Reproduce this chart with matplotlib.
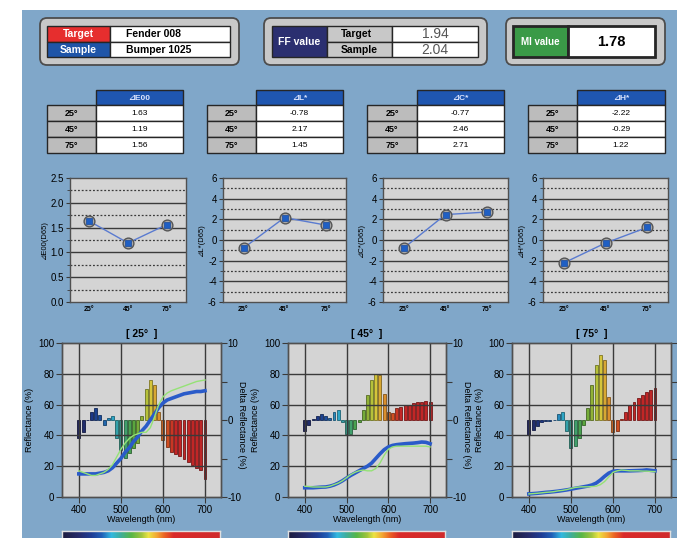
import numpy as np
import matplotlib
matplotlib.use('Agg')
import matplotlib.pyplot as plt
from matplotlib.patches import Rectangle, FancyBboxPatch
from matplotlib.colors import LinearSegmentedColormap, to_rgb

plt.rcParams['font.family'] = ['Liberation Sans', 'DejaVu Sans']

W, H = 677, 538

# ---- header values ----
target_name = 'Fender 008'
sample_name = 'Bumper 1025'
ff_target = 1.94
ff_sample = 2.04
mi_value = 1.78

# ---- colour differences per angle ----
angles = ['25°', '45°', '75°']
dE00 = [1.63, 1.19, 1.56]
dL = [-0.78, 2.17, 1.45]
dC = [-0.77, 2.46, 2.71]
dH = [-2.22, -0.29, 1.22]

# ---- spectra (every 10 nm) ----
wavelengths = np.arange(400, 701, 10)

target_25 = [17, 16, 15, 14, 14, 15, 16, 18, 21, 26, 31, 35, 38, 40, 41, 42, 42, 45, 52, 60,
             65, 67.5, 69, 70, 71, 72, 73, 74, 75, 75.5, 76]
sample_25 = [15, 15, 15, 15, 15, 15.5, 16, 17, 19, 22, 25, 29, 32, 36, 39, 43, 46, 50, 54, 58,
             61, 63, 64, 65, 66, 67, 67.5, 68, 68.5, 68.5, 69]
delta_25 = [-2.3, -1.6, 0.0, 1.1, 1.6, 0.6, -0.7, 0.2, 0.5, -2.4, -3.9, -4.9, -4.3, -3.6, -3.0,
            0.5, 4.0, 5.2, 4.6, 1.1, -2.6, -3.5, -4.1, -4.4, -4.7, -5.1, -5.5, -5.9, -6.2, -6.5, -7.7]

target_45 = [7, 6.8, 6.5, 6.5, 6.5, 6.5, 7, 8, 9, 10.5, 12.5, 14.5, 16, 17, 17.5, 17, 17, 18.5,
             22, 27, 31, 32.5, 33, 33, 33, 33, 33, 33, 33, 33, 32.5]
sample_45 = [6, 6, 6, 6.2, 6.4, 6.5, 7, 7.8, 9, 10.5, 12.3, 14, 15.5, 17, 18.5, 20, 22, 25, 28,
             30.7, 32.5, 33.5, 34, 34.3, 34.6, 34.8, 35, 35.3, 35.7, 35.5, 34.6]
delta_45 = [-1.4, -0.7, 0.1, 0.5, 0.8, 0.5, 0.3, 1.0, 1.3, -0.2, -1.8, -1.8, -1.2, -0.3, 1.3,
            3.3, 5.2, 6.0, 5.8, 3.4, 1.0, 0.9, 1.5, 1.7, 1.9, 2.0, 2.2, 2.3, 2.4, 2.5, 2.4]

target_75 = [2, 2.2, 2.4, 2.7, 3, 3.2, 3.5, 4, 4.3, 4.8, 5.5, 6.2, 6.5, 6.6, 6.6, 6.8, 7, 8, 10,
             13, 16, 17, 17.5, 17.3, 17, 17, 17, 16.8, 16.8, 16.6, 16.5]
sample_75 = [2, 2.2, 2.4, 2.7, 3, 3.2, 3.5, 3.8, 4.2, 4.6, 5.1, 5.6, 6.1, 6.6, 7.1, 7.8, 9, 11,
             13.4, 15.5, 16.7, 17, 17, 17, 17, 17.1, 17.2, 17.3, 17.6, 17.3, 17]
delta_75 = [-1.9, -1.3, -0.8, -0.3, -0.1, -0.1, 0.0, 0.8, 1.0, -1.4, -3.6, -3.4, -2.3, -0.6, 1.6,
            4.5, 7.2, 8.4, 7.8, 3.0, -1.6, -1.4, 0.1, 1.1, 1.9, 2.4, 2.9, 3.3, 3.6, 3.9, 4.2]

# spectral colour scale
spec_nodes = [(360, '#1d1d3f'), (400, '#262b6b'), (430, '#1f3d95'), (455, '#2160b8'),
              (478, '#33b9e0'), (500, '#3fae9c'), (525, '#56b647'), (550, '#9ec43d'),
              (567, '#ece443'), (588, '#f3a433'), (607, '#ea5f24'), (628, '#da2a2a'),
              (740, '#d02a2c')]
spec = LinearSegmentedColormap.from_list(
    'spec', [((nm - 360) / 380, c) for nm, c in spec_nodes])

BLUE_BG = '#80a7c9'
PLOT_BG = '#d4d4d4'
DARK = '#3a3a3a'

fig = plt.figure(figsize=(W / 100, H / 100), dpi=100)
bg = fig.add_axes([0, 0, 1, 1], zorder=0)
bg.set_xlim(0, W)
bg.set_ylim(H, 0)
bg.axis('off')
bg.add_patch(Rectangle((22, 10), W - 22, H - 10, fc=BLUE_BG, ec='none'))


def px_axes(x0, y0, x1, y1):
    return fig.add_axes([x0 / W, 1 - y1 / H, (x1 - x0) / W, (y1 - y0) / H], zorder=2)


def rbox(x0, y0, x1, y1):
    bg.add_patch(FancyBboxPatch((x0, y0), x1 - x0, y1 - y0,
                                boxstyle='round,pad=0,rounding_size=7',
                                fc='#c8c8c8', ec='#4d4d4d', lw=1.3))


def cell(x0, y0, x1, y1, fc, text='', color='black', size=7, weight='bold',
         ha='center', tx=None, lw=1.0):
    bg.add_patch(Rectangle((x0, y0), x1 - x0, y1 - y0, fc=fc, ec='#262626', lw=lw))
    if text:
        if tx is None:
            tx = (x0 + x1) / 2
        bg.text(tx, (y0 + y1) / 2 + 0.5, text, color=color, fontsize=size,
                fontweight=weight, ha=ha, va='center')


# ---- header boxes ----
rbox(40, 18, 239, 65)
cell(47, 26, 110, 41.5, '#e62e2e', 'Target', 'white', 7.5)
cell(47, 41.5, 110, 57, '#1f55a8', 'Sample', 'white', 7.5)
cell(110, 26, 230, 41.5, 'white', target_name, size=7.5, ha='left', tx=126)
cell(110, 41.5, 230, 57, 'white', sample_name, size=7.5, ha='left', tx=126)

rbox(264, 18, 487, 65)
cell(272, 26, 327, 57, '#2b2f70', 'FF value', 'white', 7.5)
cell(327, 26, 392, 41.5, '#c8c8c8', 'Target', size=7.5, ha='left', tx=341)
cell(327, 41.5, 392, 57, '#c8c8c8', 'Sample', size=7.5, ha='left', tx=341)
cell(392, 26, 478, 41.5, 'white', f'{ff_target:.2f}', color='#555555', size=10, weight='normal')
cell(392, 41.5, 478, 57, 'white', f'{ff_sample:.2f}', color='#555555', size=10, weight='normal')

rbox(506, 18, 665, 65)
cell(513, 26, 568, 57, '#3a9a47', 'MI value', 'white', 7, lw=2)
cell(568, 26, 655, 57, 'white', f'{mi_value:.2f}', size=10.5, lw=2)

# ---- difference tables ----
tables = [(47, 96, 183, '⊿E00', dE00), (207, 256, 343, '⊿L*', dL),
          (367, 417, 504, '⊿C*', dC), (528, 577, 665, '⊿H*', dH)]
for gx0, gx1, wx1, head, vals in tables:
    cell(gx1, 90, wx1, 105, '#1f56b0', head, '#dde6ff', 6)
    for i, (a, v) in enumerate(zip(angles, vals)):
        y0 = 105 + 16 * i
        cell(gx0, y0, gx1, y0 + 16, '#bcbcbc', a, size=6.5)
        cell(gx1, y0, wx1, y0 + 16, 'white', f'{v:.2f}', size=6, weight='normal')

# ---- small trend charts ----
small = [(70, 186, dE00, '⊿E00(D65)', (0, 2.5), 0.5),
         (223, 346, dL, '⊿L*(D65)', (-6, 6), 2),
         (383, 508, dC, '⊿C*(D65)', (-6, 6), 2),
         (543, 668, dH, '⊿H*(D65)', (-6, 6), 2)]
xs = np.arange(len(angles))
for x0, x1, vals, lab, (lo, hi), step in small:
    ax = px_axes(x0, 178, x1, 302)
    ax.set_facecolor(PLOT_BG)
    ax.set_xlim(-0.5, 2.5)
    ax.set_ylim(lo, hi)
    major = np.arange(lo, hi + step / 2, step)
    minor = major[:-1] + step / 2
    for v in major[1:-1]:
        ax.axhline(v, color=DARK, lw=1.0, zorder=1)
    for v in minor:
        ax.axhline(v, color=DARK, lw=0.9, ls=(0, (1.5, 1.5)), zorder=1)
    ax.set_yticks(major)
    ax.set_yticks(minor, minor=True)
    if step < 1:
        ax.set_yticklabels([f'{v:.1f}' for v in major])
    else:
        ax.set_yticklabels([f'{v:g}' for v in major])
    ax.set_xticks(xs, angles)
    ax.tick_params(axis='y', which='major', length=3, labelsize=7, pad=1.5, color=DARK)
    ax.tick_params(axis='y', which='minor', length=2, color=DARK)
    ax.tick_params(axis='x', length=0, labelsize=5, pad=3)
    for t in ax.get_xticklabels():
        t.set_fontweight('bold')
    ax.set_ylabel(lab, fontsize=5.5, labelpad=2)
    for s in ax.spines.values():
        s.set_color('#505050')
        s.set_linewidth(1)
    ax.plot(xs, vals, color='#5a7bd0', lw=1, zorder=3)
    ax.scatter(xs, vals, s=60, marker='o', fc='#a9a9a9', ec='#555555', lw=1, zorder=4)
    ax.scatter(xs, vals, s=20, marker='s', fc='#1f5fc4', ec='#1b4a9a', lw=0.5, zorder=5)

# ---- spectral charts ----
big = [(62, 221, '[ 25°  ]', target_25, sample_25, delta_25, True),
       (288, 446, '[ 45°  ]', target_45, sample_45, delta_45, True),
       (512, 671, '[ 75°  ]', target_75, sample_75, delta_75, False)]
for x0, x1, title, tgt, smp, dlt, right_labels in big:
    ax = px_axes(x0, 343, x1, 497)
    ax2 = ax.twinx()
    ax.set_zorder(ax2.get_zorder() + 1)
    ax.patch.set_visible(False)
    ax2.patch.set_visible(True)
    ax2.patch.set_facecolor(PLOT_BG)

    ax.set_xlim(360, 738)
    ax.set_ylim(0, 100)
    ax2.set_ylim(-10, 10)
    for v in [400, 500, 600, 700]:
        ax.axvline(v, color=DARK, lw=1.0, zorder=1)
    for v in [20, 40, 60, 80]:
        ax.axhline(v, color=DARK, lw=1.0, zorder=1)

    cols = [tuple(c * 0.9 for c in to_rgb(spec((w - 360) / 380))) for w in wavelengths]
    edges = [tuple(c * 0.6 for c in col) for col in cols]
    ax2.bar(wavelengths, dlt, width=7, color=cols, edgecolor=edges, lw=0.6)

    ax.plot(wavelengths, smp, color='#2a5bc9', lw=2.6, zorder=3)
    ax.plot(wavelengths, tgt, color='#95e276', lw=1.0, zorder=4)

    ax.set_xticks([400, 500, 600, 700])
    ax.set_yticks(np.arange(0, 101, 20))
    ax.tick_params(length=4, labelsize=7, pad=1.5, color=DARK)
    ax2.set_yticks([-10, -5, 0, 5, 10], ['-10', '', '0', '', '10'])
    ax2.tick_params(length=4, labelsize=7, pad=0.5, color=DARK, labelright=right_labels)
    ax.set_xlabel('Wavelength (nm)', fontsize=6.5, labelpad=0.5)
    ax.set_ylabel('Reflectance (%)', fontsize=6.5, labelpad=3)
    if right_labels:
        ax2.set_ylabel('Delta Reflectance (%)', fontsize=6.5, rotation=270,
                       ha='center', va='center')
        ax2.yaxis.set_label_coords((x1 + 21 - x0) / (x1 - x0), 0.47)
    ax.set_title(title, fontsize=7.5, fontweight='bold', pad=4)
    for a in (ax, ax2):
        for s in a.spines.values():
            s.set_color('#505050')
            s.set_linewidth(1)

    # spectrum strip under the chart
    cax = px_axes(x0, 531, x1 - 1, 546)
    grad = np.linspace(360, 738, 400)[None, :]
    cax.imshow(grad, extent=(360, 738, 0, 1), aspect='auto', cmap=spec, vmin=360, vmax=740)
    cax.set_xticks([])
    cax.set_yticks([])
    for s in cax.spines.values():
        s.set_color('#e0e0e0')
        s.set_linewidth(1)

fig.savefig('out.png', dpi=100)
